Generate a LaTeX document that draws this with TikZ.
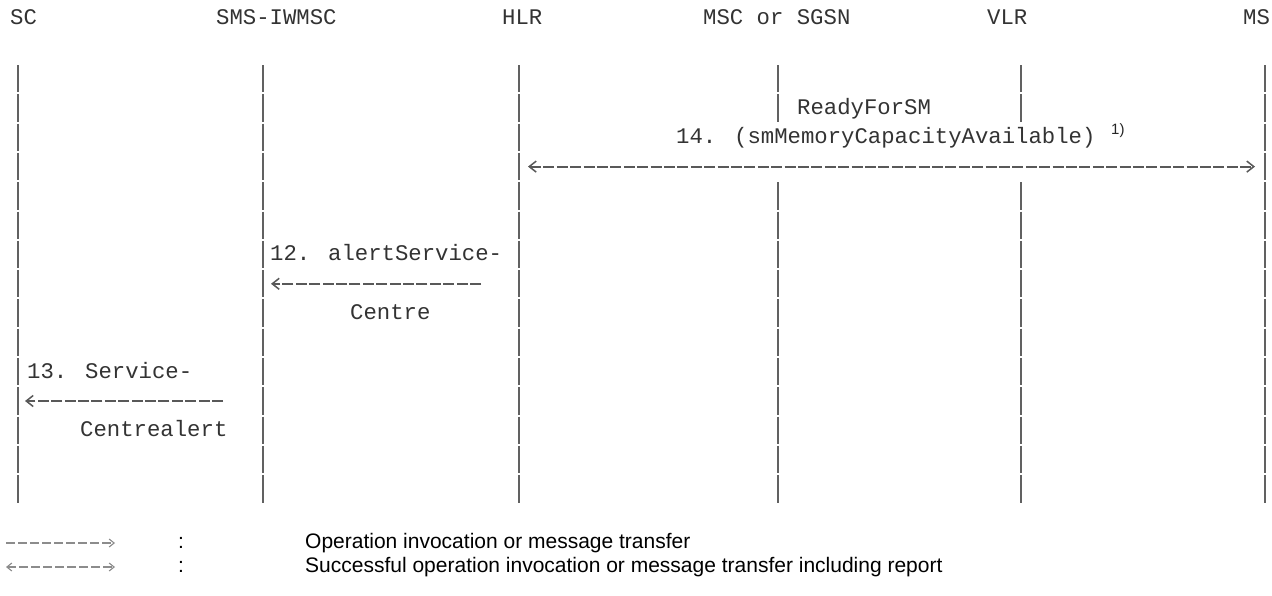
\documentclass[tikz,border=0pt]{standalone}
\usepackage{fontspec}
\setmainfont{Liberation Sans}
\newfontfamily\monofont{Liberation Mono}
\usetikzlibrary{arrows.meta}
\begin{document}
\begin{tikzpicture}[x=1pt,y=-1pt,
  mono/.style={font=\monofont\fontsize{22.3}{26}\selectfont, text=black!80, inner sep=0pt, anchor=base west},
  legtext/.style={font=\fontsize{21}{25}\selectfont, text=black, inner sep=0pt, anchor=west},
  life/.style={draw=black!62, line width=2.2pt, dash pattern=on 27.3pt off 2pt},
  msg/.style={draw=black!65, line width=1.8pt, dash pattern=on 11pt off 2.4pt},
  legmsg/.style={draw=black!45, line width=1.3pt, dash pattern=on 9pt off 3pt},
  tip/.tip={Straight Barb[length=7pt,width=11pt,line width=1.5pt]},
  smalltip/.tip={Straight Barb[length=5pt,width=8pt,line width=1.1pt]}
]
\useasboundingbox (0,0) rectangle (1272,595);
\fill[white] (0,0) rectangle (1272,595);

% headers
\node[mono] (hSC)  at (10,24.5)   {SC};
\node[mono] (hIW)  at (216,24.5)  {SMS-IWMSC};
\node[mono] (hHLR) at (502,24.5)  {HLR};
\node[mono] (hMSC) at (703,24.5)  {MSC or SGSN};
\node[mono] (hVLR) at (987,24.5)  {VLR};
\node[mono] (hMS)  at (1243,24.5) {MS};

% lifelines
\coordinate (scT) at (18,65);    \coordinate (scB) at (18,504);
\coordinate (iwT) at (263,65);   \coordinate (iwB) at (263,504);
\coordinate (hlT) at (519,65);   \coordinate (hlB) at (519,504);
\coordinate (msT) at (778,65);   \coordinate (msM1) at (778,122.6);
\coordinate (msM2) at (778,182.2); \coordinate (msB) at (778,504);
\coordinate (vlT) at (1021,65);  \coordinate (vlM1) at (1021,122.6);
\coordinate (vlM2) at (1021,182.2); \coordinate (vlB) at (1021,504);
\coordinate (mT) at (1265,65);   \coordinate (mB) at (1265,504);
\draw[life] (scT) -- (scB);
\draw[life] (iwT) -- (iwB);
\draw[life] (hlT) -- (hlB);
\draw[life] (msT) -- (msM1);
\draw[life] (msM2) -- (msB);
\draw[life] (vlT) -- (vlM1);
\draw[life] (vlM2) -- (vlB);
\draw[life] (mT) -- (mB);

% message 14
\node[mono] (t14a) at (797,114.4) {ReadyForSM};
\node[mono] (t14b) at (676,143.7) {14. (smMemoryCapacityAvailable)};
\node[font=\fontsize{15}{17}\selectfont, text=black!85, inner sep=0pt, anchor=west] (t14n) at (1111,131) {1)};
\coordinate (a14l) at (528,166.6);
\coordinate (a14r) at (1255,166.6);
\draw[msg, {tip}-{tip}] (a14l) -- (a14r);

% message 12
\node[mono] (t12a) at (270,260.9) {12. alertService-};
\coordinate (a12s) at (481,283.8);
\coordinate (a12e) at (271,283.8);
\draw[msg, -{tip}] (a12s) -- (a12e);
\node[mono] (t12b) at (350,319.5) {Centre};

% message 13
\node[mono] (t13a) at (27,378.1) {13. Service-};
\coordinate (a13s) at (223,401);
\coordinate (a13e) at (25,401);
\draw[msg, -{tip}] (a13s) -- (a13e);
\node[mono] (t13b) at (80,436.7) {Centrealert};

% legend
\coordinate (l1s) at (6,543);  \coordinate (l1e) at (115,543);
\coordinate (l2s) at (6,567);  \coordinate (l2e) at (115,567);
\draw[legmsg, -{smalltip}] (l1s) -- (l1e);
\draw[legmsg, {smalltip}-{smalltip}] (l2s) -- (l2e);
\node[legtext, anchor=center] (c1) at (181,543) {:};
\node[legtext, anchor=center] (c2) at (181,567) {:};
\node[legtext] (lg1) at (305,543) {Operation invocation or message transfer};
\node[legtext] (lg2) at (305,567) {Successful operation invocation or message transfer including report};
\end{tikzpicture}
\end{document}
